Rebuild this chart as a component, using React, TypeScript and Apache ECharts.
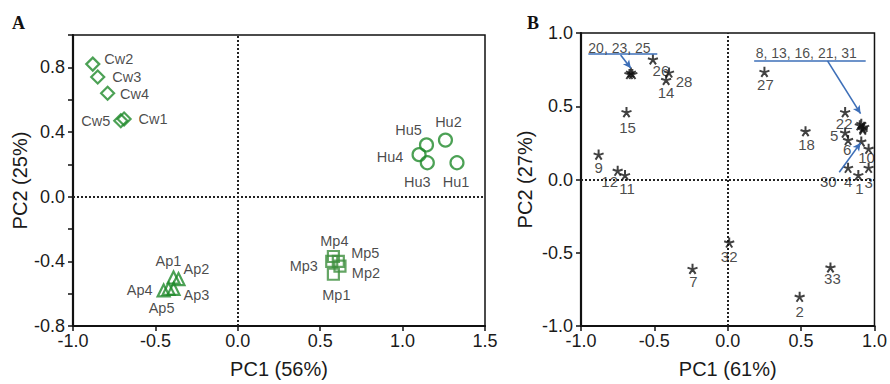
import React, { useEffect, useRef } from 'react';
import * as echarts from 'echarts';

// ---------- Panel A data ----------
const cwNames = ['Cw1', 'Cw2', 'Cw3', 'Cw4', 'Cw5'];
const cwPC1 = [-0.69, -0.88, -0.85, -0.79, -0.71];
const cwPC2 = [0.48, 0.82, 0.74, 0.64, 0.47];

const huNames = ['Hu1', 'Hu2', 'Hu3', 'Hu4', 'Hu5'];
const huPC1 = [1.33, 1.26, 1.15, 1.1, 1.145];
const huPC2 = [0.21, 0.35, 0.21, 0.26, 0.32];

const mpNames = ['Mp1', 'Mp2', 'Mp3', 'Mp4', 'Mp5'];
const mpPC1 = [0.58, 0.62, 0.57, 0.58, 0.61];
const mpPC2 = [-0.48, -0.43, -0.4, -0.37, -0.4];

const apNames = ['Ap1', 'Ap2', 'Ap3', 'Ap4', 'Ap5'];
const apPC1 = [-0.39, -0.36, -0.39, -0.45, -0.42];
const apPC2 = [-0.5, -0.51, -0.57, -0.58, -0.57];

// ---------- Panel B data ----------
const bIds = ['1', '2', '3', '4', '5', '6', '7', '8', '9', '10', '11', '12', '13', '14', '15', '16', '18', '20', '21', '22', '23', '25', '26', '27', '28', '30', '31', '32', '33'];
const bPC1 = [0.89, 0.49, 0.96, 0.82, 0.8, 0.82, -0.24, 0.9, -0.88, 0.96, -0.7, -0.75, 0.92, -0.42, -0.69, 0.91, 0.53, -0.66, 0.93, 0.8, -0.65, -0.67, -0.51, 0.25, -0.4, 0.91, 0.92, 0.01, 0.7];
const bPC2 = [0.03, -0.8, 0.08, 0.08, 0.32, 0.27, -0.61, 0.37, 0.17, 0.21, 0.03, 0.06, 0.35, 0.68, 0.46, 0.38, 0.33, 0.73, 0.36, 0.46, 0.72, 0.72, 0.82, 0.735, 0.73, 0.26, 0.34, -0.43, -0.6];
const bUnlabeled = ['8', '13', '16', '21', '31', '20', '23', '25'];

// group annotations (text anchored at left of underline)
const groupTexts = ['20, 23, 25', '8, 13, 16, 21, 31'];
const groupTextPC1 = [-0.95, 0.19];
const groupTextPC2 = [0.9, 0.865];
const underlineX1 = [-0.95, 0.18];
const underlineX2 = [-0.48, 0.94];
const underlineY = [0.857, 0.81];
// arrows: start -> end
const arrowX1 = [-0.73, 0.68, 0.76];
const arrowY1 = [0.85, 0.81, 0.05];
const arrowX2 = [-0.66, 0.905, 0.905];
const arrowY2 = [0.76, 0.45, 0.25];

// ---------- label layout (pixel offsets, styling only) ----------
const aLabelOffset: Record<string, number[]> = {
  Cw1: [29, 0], Cw2: [26, -5], Cw3: [29, 0], Cw4: [27, 1], Cw5: [-25, 0],
  Hu1: [-1, 19], Hu2: [3, -18], Hu3: [-10, 19], Hu4: [-29, 2], Hu5: [-18, -15],
  Mp1: [3, 21], Mp2: [26, 7], Mp3: [-28, 5], Mp4: [1, -15], Mp5: [27, -8],
  Ap1: [-5, -17], Ap2: [18, -10], Ap3: [23, 6], Ap4: [-24, 0], Ap5: [-7, 19],
};
const bLabelOffset: Record<string, number[]> = {
  '26': [8, 11], '28': [15, 9], '14': [0, 13], '15': [1, 15], '9': [0, 13], '12': [-8, 11], '11': [2, 13],
  '27': [1, 13], '18': [1, 13], '22': [-1, 11], '5': [-11, 3], '6': [-1, 10], '10': [-2, 9], '4': [0, 14],
  '1': [1, 13], '3': [0, 15], '30': [-33, 40], '32': [0, 14], '7': [1, 13], '2': [0, 15], '33': [2, 11],
};

const FONT = '"Liberation Sans", Arial, Helvetica, sans-serif';
const GREEN = '#1f8a2b';
const GREEN2 = '#3d8f3d';
const BLUE = '#3d6fb8';
const INK = '#1a1a1a';
const ASTERISK = 'path://M5,5L5,0M5,5L9.76,3.45M5,5L7.94,9.05M5,5L2.06,9.05M5,5L0.24,3.45';

function fmt(v: number): string {
  const r = Math.round(v * 10) / 10;
  return (Math.abs(r) < 1e-9 ? 0 : r).toFixed(1);
}

function axisCommon(extra: any) {
  return {
    type: 'value',
    splitLine: { show: false },
    axisLine: { show: true, onZero: false, lineStyle: { color: '#111', width: 2.2 } },
    axisTick: { show: true, inside: false, length: 5, lineStyle: { color: '#111', width: 1.5 } },
    axisLabel: { fontSize: 18, color: INK, fontFamily: FONT, formatter: fmt },
    nameLocation: 'middle',
    nameTextStyle: { fontSize: 20, color: INK, fontFamily: FONT },
    ...extra,
  };
}

function groupSeries(names: string[], xs: number[], ys: number[], symbol: string, size: number, color: string) {
  return {
    type: 'scatter',
    xAxisIndex: 0,
    yAxisIndex: 0,
    symbol,
    symbolSize: size,
    z: 3,
    itemStyle: { color: 'transparent', borderColor: color, borderWidth: 2.2 },
    label: {
      show: true,
      position: 'inside',
      formatter: '{b}',
      color: INK,
      fontSize: 14.5,
      fontFamily: FONT,
      textBorderWidth: 0,
    },
    data: names.map((n, i) => ({ name: n, value: [xs[i], ys[i]], label: { offset: aLabelOffset[n] } })),
  };
}

export default function App() {
  const ref = useRef<HTMLDivElement>(null);

  useEffect(() => {
    if (!ref.current) return;
    const chart = echarts.init(ref.current, undefined, { renderer: 'svg' });

    const zeroLine = (xi: number) => ({
      type: 'scatter',
      xAxisIndex: xi,
      yAxisIndex: xi,
      symbolSize: 0,
      silent: true,
      data: [[0, 0]],
      z: 1,
      markLine: {
        silent: true,
        z: 1,
        symbol: 'none',
        label: { show: false },
        lineStyle: { color: '#222', type: [2, 2], width: 2 },
        data: [{ xAxis: 0 }, { yAxis: 0 }],
      },
    });

    const annotationLines: any[] = [];
    underlineY.forEach((y, i) => {
      annotationLines.push([
        { coord: [underlineX1[i], y], symbol: 'none' },
        { coord: [underlineX2[i], y], symbol: 'none' },
      ]);
    });
    arrowX1.forEach((x, i) => {
      annotationLines.push([
        { coord: [x, arrowY1[i]], symbol: 'none' },
        { coord: [arrowX2[i], arrowY2[i]], symbol: 'arrow', symbolSize: [6, 8] },
      ]);
    });

    const option: any = {
      animation: false,
      backgroundColor: '#fff',
      grid: [
        { left: 73, top: 35, width: 412, height: 292, show: true, borderColor: '#111', borderWidth: 1.5, backgroundColor: 'transparent' },
        { left: 581, top: 33, width: 296, height: 294, show: true, borderColor: '#111', borderWidth: 1.5, backgroundColor: 'transparent' },
      ],
      xAxis: [
        axisCommon({ gridIndex: 0, min: -1, max: 1.5, interval: 0.5, name: 'PC1 (56%)', nameGap: 33, axisLabel: { fontSize: 18, color: INK, fontFamily: FONT, formatter: fmt, margin: 6 } }),
        axisCommon({ gridIndex: 1, min: -1, max: 1, interval: 0.5, name: 'PC1 (61%)', nameGap: 33, axisLabel: { fontSize: 18, color: INK, fontFamily: FONT, formatter: fmt, margin: 6 } }),
      ],
      yAxis: [
        axisCommon({
          gridIndex: 0, min: -0.8, max: 1.0, interval: 0.2, name: 'PC2 (25%)', nameGap: 43,
          axisLabel: {
            fontSize: 18, color: INK, fontFamily: FONT, margin: 8,
            formatter: (v: number) => (Math.round(v * 10) % 4 === 0 ? fmt(v) : ''),
          },
        }),
        axisCommon({ gridIndex: 1, min: -1, max: 1, interval: 0.5, name: 'PC2 (27%)', nameGap: 46, axisLabel: { fontSize: 18, color: INK, fontFamily: FONT, formatter: fmt, margin: 8 } }),
      ],
      graphic: [
        { type: 'text', left: 12, top: 14, style: { text: 'A', font: 'bold 18px "Liberation Serif", "Times New Roman", serif', fill: '#111' } },
        { type: 'text', left: 527, top: 14, style: { text: 'B', font: 'bold 18px "Liberation Serif", "Times New Roman", serif', fill: '#111' } },
      ],
      series: [
        zeroLine(0),
        zeroLine(1),
        groupSeries(cwNames, cwPC1, cwPC2, 'diamond', 13, GREEN),
        groupSeries(huNames, huPC1, huPC2, 'circle', 13, GREEN),
        groupSeries(mpNames, mpPC1, mpPC2, 'rect', 11, GREEN2),
        groupSeries(apNames, apPC1, apPC2, 'triangle', 12, GREEN),
        {
          type: 'scatter',
          xAxisIndex: 1,
          yAxisIndex: 1,
          symbol: ASTERISK,
          symbolSize: 10,
          z: 3,
          itemStyle: { color: 'none', borderColor: '#111', borderWidth: 2 },
          label: {
            show: true,
            position: 'inside',
            formatter: '{b}',
            color: INK,
            fontSize: 15,
            fontFamily: FONT,
            textBorderWidth: 0,
          },
          data: bIds.map((id, i) => ({
            name: id,
            value: [bPC1[i], bPC2[i]],
            label: bUnlabeled.includes(id) ? { show: false } : { offset: bLabelOffset[id] || [0, 13] },
          })),
        },
        {
          type: 'scatter',
          xAxisIndex: 1,
          yAxisIndex: 1,
          symbolSize: 0,
          silent: true,
          z: 4,
          label: {
            show: true,
            position: 'right',
            distance: 0,
            formatter: '{b}',
            color: INK,
            fontSize: 14,
            fontFamily: FONT,
          },
          data: groupTexts.map((t, i) => ({ name: t, value: [groupTextPC1[i], groupTextPC2[i]] })),
          markLine: {
            silent: true,
            z: 4,
            symbol: 'none',
            label: { show: false },
            lineStyle: { color: BLUE, type: 'solid', width: 1.6 },
            data: annotationLines,
          },
        },
      ],
    };

    chart.setOption(option);
    return () => chart.dispose();
  }, []);

  return <div ref={ref} style={{ position: 'fixed', left: 0, top: 0, width: 890, height: 384, background: '#fff' }} />;
}
